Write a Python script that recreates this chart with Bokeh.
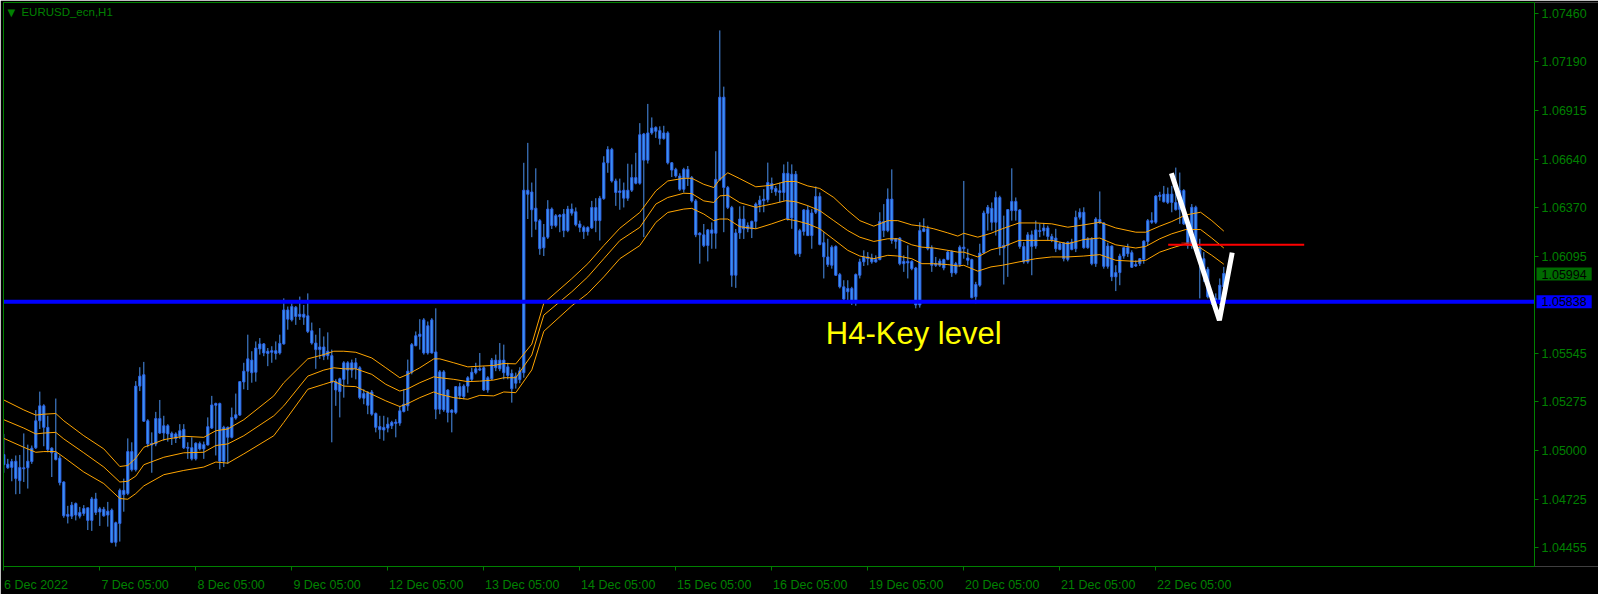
from bokeh.plotting import figure
from bokeh.models import ColumnDataSource, Range1d, FixedTicker, PrintfTickFormatter, LinearAxis, Label
from bokeh.embed import file_html
from bokeh.resources import INLINE

chart_title = "EURUSD_ecn,H1"
date_labels = ["6 Dec 2022", "7 Dec 05:00", "8 Dec 05:00", "9 Dec 05:00", "12 Dec 05:00",
               "13 Dec 05:00", "14 Dec 05:00", "15 Dec 05:00", "16 Dec 05:00", "19 Dec 05:00",
               "20 Dec 05:00", "21 Dec 05:00", "22 Dec 05:00"]
date_label_bars = [0, 24, 48, 72, 96, 120, 144, 168, 192, 216, 240, 264, 288]
price_ticks = [1.04455, 1.04725, 1.05000, 1.05275, 1.05545, 1.06095, 1.06370,
               1.06640, 1.06915, 1.07190, 1.07460]

# H1 candles (bull and bear candles are drawn alike, so the body edges are given)
high = [
    1.05095, 1.04955, 1.04955, 1.04974, 1.04977, 1.05098, 1.05035, 1.05030, 1.05229, 1.05333,
    1.05262, 1.05197, 1.05020, 1.05294, 1.04974, 1.04829, 1.04691, 1.04713, 1.04710, 1.04685,
    1.04695, 1.04680, 1.04741, 1.04764, 1.04685, 1.04685, 1.04713, 1.04676, 1.04602, 1.04788,
    1.04844, 1.05070, 1.05048, 1.05392, 1.05470, 1.05500, 1.05178, 1.05104, 1.05219, 1.05286,
    1.05197, 1.05150, 1.05108, 1.05104, 1.05150, 1.05150, 1.05048, 1.05076, 1.05048, 1.05052,
    1.05052, 1.05188, 1.05309, 1.05271, 1.05271, 1.05141, 1.05137, 1.05243, 1.05322, 1.05392,
    1.05495, 1.05653, 1.05560, 1.05615, 1.05634, 1.05606, 1.05578, 1.05588, 1.05615, 1.05653,
    1.05857, 1.05811, 1.05829, 1.05814, 1.05867, 1.05820, 1.05885, 1.05721, 1.05653, 1.05690,
    1.05643, 1.05666, 1.05569, 1.05402, 1.05411, 1.05504, 1.05504, 1.05513, 1.05522, 1.05476,
    1.05346, 1.05336, 1.05342, 1.05216, 1.05197, 1.05197, 1.05188, 1.05169, 1.05178, 1.05253,
    1.05346, 1.05513, 1.05606, 1.05671, 1.05740, 1.05746, 1.05727, 1.05746, 1.05801, 1.05454,
    1.05454, 1.05346, 1.05234, 1.05364, 1.05383, 1.05374, 1.05420, 1.05467, 1.05495, 1.05550,
    1.05476, 1.05420, 1.05522, 1.05541, 1.05606, 1.05597, 1.05495, 1.05457, 1.05440, 1.05470,
    1.06619, 1.06731, 1.06508, 1.06588, 1.06303, 1.06275, 1.06409, 1.06368, 1.06331, 1.06331,
    1.06359, 1.06377, 1.06390, 1.06368, 1.06294, 1.06266, 1.06262, 1.06405, 1.06420, 1.06433,
    1.06656, 1.06712, 1.06703, 1.06530, 1.06530, 1.06508, 1.06614, 1.06610, 1.06675, 1.06842,
    1.06787, 1.06950, 1.06874, 1.06824, 1.06824, 1.06827, 1.06796, 1.06623, 1.06591, 1.06560,
    1.06591, 1.06601, 1.06545, 1.06415, 1.06229, 1.06275, 1.06247, 1.06284, 1.06684, 1.07363,
    1.07047, 1.06489, 1.06377, 1.06247, 1.06374, 1.06377, 1.06284, 1.06294, 1.06396, 1.06434,
    1.06471, 1.06620, 1.06536, 1.06489, 1.06508, 1.06610, 1.06625, 1.06610, 1.06573, 1.06248,
    1.06359, 1.06378, 1.06359, 1.06486, 1.06452, 1.06229, 1.06192, 1.06155, 1.06155, 1.06000,
    1.05959, 1.05959, 1.05922, 1.05997, 1.06080, 1.06127, 1.06117, 1.06108, 1.06099, 1.06341,
    1.06387, 1.06475, 1.06582, 1.06196, 1.06201, 1.06099, 1.06155, 1.06071, 1.06034, 1.06285,
    1.06307, 1.06266, 1.06155, 1.06090, 1.06080, 1.06080, 1.06127, 1.06127, 1.06062, 1.06155,
    1.06517, 1.06136, 1.06080, 1.05950, 1.06164, 1.06350, 1.06382, 1.06396, 1.06458, 1.06434,
    1.06322, 1.06359, 1.06588, 1.06424, 1.06359, 1.06173, 1.06229, 1.06238, 1.06294, 1.06276,
    1.06281, 1.06266, 1.06220, 1.06248, 1.06173, 1.06173, 1.06177, 1.06192, 1.06350, 1.06363,
    1.06369, 1.06201, 1.06201, 1.06313, 1.06458, 1.06285, 1.06170, 1.06155, 1.06043, 1.06108,
    1.06145, 1.06164, 1.06127, 1.06071, 1.06084, 1.06183, 1.06303, 1.06341, 1.06437, 1.06456,
    1.06489, 1.06480, 1.06489, 1.06592, 1.06564, 1.06471, 1.06285, 1.06387, 1.06378, 1.06192,
    1.06117, 1.06034, 1.05894, 1.05885, 1.05969, 1.06034]
body_high = [
    1.04979, 1.04925, 1.04940, 1.04942, 1.04907, 1.04905, 1.04942, 1.05015, 1.05169, 1.05253,
    1.05253, 1.05132, 1.05015, 1.04989, 1.04959, 1.04825, 1.04643, 1.04695, 1.04704, 1.04654,
    1.04676, 1.04680, 1.04730, 1.04730, 1.04674, 1.04672, 1.04661, 1.04667, 1.04596, 1.04778,
    1.04778, 1.04996, 1.04996, 1.05364, 1.05420, 1.05428, 1.05169, 1.05043, 1.05182, 1.05182,
    1.05141, 1.05141, 1.05098, 1.05095, 1.05113, 1.05121, 1.05020, 1.05018, 1.05043, 1.05041,
    1.05035, 1.05136, 1.05258, 1.05266, 1.05266, 1.05132, 1.05132, 1.05188, 1.05203, 1.05389,
    1.05448, 1.05517, 1.05510, 1.05578, 1.05601, 1.05601, 1.05560, 1.05563, 1.05563, 1.05604,
    1.05792, 1.05792, 1.05811, 1.05807, 1.05768, 1.05768, 1.05759, 1.05675, 1.05606, 1.05584,
    1.05584, 1.05560, 1.05535, 1.05389, 1.05405, 1.05495, 1.05495, 1.05495, 1.05495, 1.05467,
    1.05322, 1.05327, 1.05331, 1.05210, 1.05137, 1.05132, 1.05150, 1.05160, 1.05162, 1.05225,
    1.05262, 1.05448, 1.05597, 1.05647, 1.05656, 1.05736, 1.05703, 1.05736, 1.05556, 1.05444,
    1.05444, 1.05342, 1.05229, 1.05361, 1.05361, 1.05364, 1.05411, 1.05442, 1.05461, 1.05461,
    1.05467, 1.05411, 1.05510, 1.05510, 1.05510, 1.05510, 1.05472, 1.05435, 1.05420, 1.05450,
    1.06465, 1.06465, 1.06455, 1.06364, 1.06294, 1.06201, 1.06359, 1.06359, 1.06322, 1.06325,
    1.06331, 1.06359, 1.06359, 1.06344, 1.06275, 1.06256, 1.06256, 1.06368, 1.06368, 1.06420,
    1.06619, 1.06694, 1.06694, 1.06517, 1.06461, 1.06465, 1.06465, 1.06536, 1.06536, 1.06777,
    1.06781, 1.06787, 1.06815, 1.06818, 1.06800, 1.06787, 1.06787, 1.06619, 1.06582, 1.06545,
    1.06582, 1.06582, 1.06536, 1.06405, 1.06223, 1.06214, 1.06242, 1.06242, 1.06526, 1.06988,
    1.06988, 1.06480, 1.06368, 1.06225, 1.06303, 1.06303, 1.06266, 1.06290, 1.06387, 1.06409,
    1.06415, 1.06508, 1.06502, 1.06475, 1.06462, 1.06560, 1.06560, 1.06555, 1.06555, 1.06238,
    1.06354, 1.06354, 1.06337, 1.06430, 1.06430, 1.06170, 1.06090, 1.06145, 1.06149, 1.05991,
    1.05922, 1.05913, 1.05913, 1.05991, 1.06062, 1.06090, 1.06090, 1.06084, 1.06075, 1.06289,
    1.06289, 1.06415, 1.06415, 1.06192, 1.06196, 1.06065, 1.06065, 1.06065, 1.06028, 1.06238,
    1.06248, 1.06248, 1.06140, 1.06052, 1.06067, 1.06075, 1.06117, 1.06121, 1.06052, 1.06145,
    1.06145, 1.06084, 1.06075, 1.05935, 1.06112, 1.06337, 1.06369, 1.06363, 1.06424, 1.06424,
    1.06155, 1.06356, 1.06402, 1.06402, 1.06354, 1.06149, 1.06214, 1.06214, 1.06242, 1.06238,
    1.06253, 1.06253, 1.06205, 1.06196, 1.06164, 1.06168, 1.06173, 1.06173, 1.06313, 1.06341,
    1.06341, 1.06192, 1.06192, 1.06303, 1.06300, 1.06281, 1.06151, 1.06151, 1.06002, 1.06095,
    1.06142, 1.06142, 1.06114, 1.06047, 1.06080, 1.06179, 1.06294, 1.06294, 1.06432, 1.06437,
    1.06443, 1.06443, 1.06443, 1.06396, 1.06463, 1.06463, 1.06276, 1.06369, 1.06369, 1.06145,
    1.06080, 1.06021, 1.05876, 1.05857, 1.05931, 1.05997]
body_low = [
    1.04922, 1.04905, 1.04907, 1.04844, 1.04832, 1.04899, 1.04905, 1.04940, 1.05017, 1.05169,
    1.05132, 1.05007, 1.04989, 1.04951, 1.04821, 1.04635, 1.04632, 1.04633, 1.04639, 1.04633,
    1.04648, 1.04609, 1.04609, 1.04654, 1.04656, 1.04635, 1.04639, 1.04486, 1.04486, 1.04592,
    1.04754, 1.04760, 1.04894, 1.04894, 1.05364, 1.05167, 1.05039, 1.05033, 1.05039, 1.05100,
    1.05100, 1.05095, 1.05076, 1.05070, 1.05082, 1.05017, 1.05015, 1.04955, 1.04955, 1.05011,
    1.05011, 1.05033, 1.05128, 1.05256, 1.04942, 1.04942, 1.05076, 1.05076, 1.05184, 1.05201,
    1.05387, 1.05448, 1.05439, 1.05442, 1.05573, 1.05550, 1.05547, 1.05554, 1.05547, 1.05550,
    1.05601, 1.05740, 1.05736, 1.05755, 1.05755, 1.05751, 1.05671, 1.05606, 1.05569, 1.05569,
    1.05532, 1.05535, 1.05383, 1.05342, 1.05333, 1.05402, 1.05454, 1.05454, 1.05463, 1.05299,
    1.05296, 1.05256, 1.05206, 1.05132, 1.05119, 1.05117, 1.05128, 1.05141, 1.05154, 1.05156,
    1.05221, 1.05253, 1.05442, 1.05591, 1.05643, 1.05550, 1.05550, 1.05550, 1.05234, 1.05234,
    1.05230, 1.05216, 1.05216, 1.05216, 1.05309, 1.05305, 1.05364, 1.05402, 1.05439, 1.05454,
    1.05342, 1.05342, 1.05405, 1.05467, 1.05461, 1.05439, 1.05424, 1.05349, 1.05380, 1.05400,
    1.05439, 1.06442, 1.06355, 1.06290, 1.06136, 1.06141, 1.06201, 1.06266, 1.06266, 1.06316,
    1.06238, 1.06238, 1.06336, 1.06271, 1.06256, 1.06232, 1.06232, 1.06253, 1.06294, 1.06294,
    1.06418, 1.06619, 1.06517, 1.06452, 1.06452, 1.06420, 1.06420, 1.06465, 1.06504, 1.06504,
    1.06634, 1.06634, 1.06787, 1.06796, 1.06755, 1.06755, 1.06619, 1.06578, 1.06545, 1.06470,
    1.06470, 1.06536, 1.06405, 1.06214, 1.06214, 1.06154, 1.06154, 1.06223, 1.06223, 1.06523,
    1.06480, 1.06368, 1.05987, 1.05987, 1.06225, 1.06247, 1.06247, 1.06248, 1.06290, 1.06383,
    1.06406, 1.06411, 1.06471, 1.06456, 1.06452, 1.06452, 1.06303, 1.06309, 1.06108, 1.06108,
    1.06233, 1.06210, 1.06210, 1.06341, 1.06160, 1.06090, 1.06047, 1.06043, 1.05987, 1.05922,
    1.05853, 1.05894, 1.05835, 1.05835, 1.05987, 1.06062, 1.06080, 1.06062, 1.06062, 1.06075,
    1.06238, 1.06238, 1.06183, 1.06177, 1.06052, 1.06052, 1.06056, 1.06024, 1.05820, 1.05820,
    1.06233, 1.06136, 1.06043, 1.06043, 1.06043, 1.06028, 1.06076, 1.06000, 1.06000, 1.06047,
    1.06136, 1.06071, 1.05861, 1.05866, 1.05931, 1.06112, 1.06335, 1.06285, 1.06285, 1.06145,
    1.06140, 1.06155, 1.06350, 1.06350, 1.06149, 1.06062, 1.06062, 1.06149, 1.06151, 1.06233,
    1.06236, 1.06205, 1.06186, 1.06136, 1.06132, 1.06080, 1.06076, 1.06132, 1.06136, 1.06313,
    1.06142, 1.06142, 1.06052, 1.06052, 1.06281, 1.06037, 1.06037, 1.05978, 1.05978, 1.06002,
    1.06095, 1.06108, 1.06032, 1.06039, 1.06052, 1.06076, 1.06177, 1.06285, 1.06285, 1.06430,
    1.06400, 1.06396, 1.06396, 1.06356, 1.06356, 1.06276, 1.06155, 1.06155, 1.06145, 1.06062,
    1.06015, 1.05866, 1.05838, 1.05842, 1.05838, 1.05922]
low = [
    1.04877, 1.04899, 1.04829, 1.04756, 1.04758, 1.04825, 1.04788, 1.04927, 1.05011, 1.05123,
    1.05026, 1.04992, 1.04853, 1.04946, 1.04806, 1.04624, 1.04592, 1.04617, 1.04609, 1.04620,
    1.04635, 1.04555, 1.04550, 1.04639, 1.04578, 1.04630, 1.04574, 1.04481, 1.04462, 1.04490,
    1.04658, 1.04751, 1.04884, 1.04884, 1.05336, 1.05163, 1.05020, 1.04877, 1.05026, 1.05095,
    1.05057, 1.05052, 1.05033, 1.05044, 1.05067, 1.05011, 1.04955, 1.04946, 1.04946, 1.05002,
    1.04955, 1.05030, 1.05123, 1.04974, 1.04896, 1.04909, 1.04927, 1.05070, 1.05175, 1.05197,
    1.05346, 1.05342, 1.05383, 1.05389, 1.05541, 1.05532, 1.05476, 1.05495, 1.05513, 1.05541,
    1.05597, 1.05681, 1.05727, 1.05708, 1.05736, 1.05708, 1.05662, 1.05597, 1.05461, 1.05517,
    1.05510, 1.05513, 1.05048, 1.05253, 1.05188, 1.05299, 1.05374, 1.05411, 1.05402, 1.05290,
    1.05262, 1.05206, 1.05197, 1.05104, 1.05067, 1.05057, 1.05104, 1.05123, 1.05076, 1.05141,
    1.05216, 1.05225, 1.05430, 1.05588, 1.05569, 1.05541, 1.05541, 1.05547, 1.05178, 1.05206,
    1.05219, 1.05160, 1.05104, 1.05206, 1.05290, 1.05290, 1.05327, 1.05392, 1.05430, 1.05448,
    1.05336, 1.05327, 1.05398, 1.05448, 1.05448, 1.05402, 1.05402, 1.05271, 1.05350, 1.05380,
    1.05411, 1.06303, 1.06201, 1.06243, 1.06102, 1.06095, 1.06191, 1.06247, 1.06256, 1.06229,
    1.06201, 1.06229, 1.06322, 1.06262, 1.06229, 1.06191, 1.06210, 1.06247, 1.06229, 1.06182,
    1.06411, 1.06563, 1.06508, 1.06377, 1.06355, 1.06368, 1.06405, 1.06455, 1.06498, 1.06496,
    1.06201, 1.06615, 1.06777, 1.06759, 1.06721, 1.06749, 1.06610, 1.06539, 1.06536, 1.06461,
    1.06452, 1.06489, 1.06396, 1.06201, 1.06052, 1.06145, 1.06065, 1.06136, 1.06136, 1.06517,
    1.06229, 1.06359, 1.05922, 1.05916, 1.06191, 1.06191, 1.06229, 1.06196, 1.06248, 1.06341,
    1.06341, 1.06396, 1.06449, 1.06434, 1.06396, 1.06406, 1.06294, 1.06248, 1.06099, 1.06090,
    1.06210, 1.06207, 1.06136, 1.06331, 1.06155, 1.05969, 1.06034, 1.06024, 1.05984, 1.05913,
    1.05848, 1.05848, 1.05820, 1.05816, 1.05969, 1.06039, 1.06043, 1.06052, 1.06058, 1.06071,
    1.06201, 1.06229, 1.06164, 1.06136, 1.06043, 1.06006, 1.05969, 1.06015, 1.05801, 1.05805,
    1.06229, 1.06127, 1.06006, 1.06034, 1.06034, 1.06015, 1.06071, 1.05978, 1.05991, 1.06034,
    1.06080, 1.06043, 1.05857, 1.05829, 1.05922, 1.06108, 1.06238, 1.06238, 1.06210, 1.06099,
    1.05935, 1.05978, 1.06294, 1.06294, 1.06136, 1.06052, 1.06052, 1.05987, 1.06136, 1.06201,
    1.06210, 1.06183, 1.06173, 1.06117, 1.06127, 1.06065, 1.06065, 1.06127, 1.06117, 1.06300,
    1.06136, 1.06136, 1.06043, 1.06034, 1.06276, 1.06024, 1.06024, 1.05954, 1.05898, 1.05931,
    1.06080, 1.06090, 1.06028, 1.06034, 1.06039, 1.06052, 1.06155, 1.06276, 1.06276, 1.06406,
    1.06396, 1.06387, 1.06341, 1.06350, 1.06276, 1.06270, 1.06136, 1.06136, 1.06136, 1.05857,
    1.05950, 1.05857, 1.05820, 1.05820, 1.05820, 1.05913]

# moving-average band (upper / middle / lower), read at these bar positions
ma_bar = [
    0, 5, 8, 10, 13, 15, 20, 25, 29, 31,
    33, 35, 40, 45, 50, 53, 56, 60, 67.5, 70,
    76, 80, 82.5, 85, 88, 92, 95.5, 99, 101, 104,
    107.5, 109, 112.5, 116, 119, 122.5, 125, 128, 132, 135,
    142, 146, 150, 154, 159, 163, 166, 170, 172, 175,
    177.5, 179, 181, 184, 188, 192, 195.5, 198, 201, 204,
    207.5, 211, 214, 217.5, 221, 223.5, 227, 229.5, 232.5, 236,
    238.5, 240, 243.5, 246.8, 249.6, 253.8, 258, 262, 266, 270,
    274, 278, 283, 285.5, 289, 292, 295.5, 299.2, 302, 305]
ma_upper = [
    1.05286, 1.05230, 1.05201, 1.05206, 1.05210, 1.05169, 1.05085, 1.05011, 1.04912, 1.04918,
    1.04959, 1.05020, 1.05063, 1.05082, 1.05076, 1.05113, 1.05123, 1.05175, 1.05309, 1.05383,
    1.05517, 1.05541, 1.05560, 1.05560, 1.05554, 1.05522, 1.05467, 1.05411, 1.05430, 1.05467,
    1.05517, 1.05517, 1.05495, 1.05472, 1.05476, 1.05480, 1.05491, 1.05489, 1.05600, 1.05830,
    1.05968, 1.06052, 1.06154, 1.06251, 1.06340, 1.06461, 1.06517, 1.06532, 1.06532, 1.06498,
    1.06480, 1.06526, 1.06563, 1.06530, 1.06484, 1.06493, 1.06514, 1.06514, 1.06489, 1.06475,
    1.06424, 1.06350, 1.06294, 1.06263, 1.06294, 1.06294, 1.06270, 1.06263, 1.06248, 1.06225,
    1.06207, 1.06223, 1.06201, 1.06223, 1.06248, 1.06281, 1.06281, 1.06276, 1.06257, 1.06270,
    1.06285, 1.06253, 1.06229, 1.06229, 1.06263, 1.06289, 1.06326, 1.06341, 1.06294, 1.06235]
ma_mid = [
    1.05175, 1.05128, 1.05095, 1.05100, 1.05104, 1.05067, 1.04989, 1.04909, 1.04825, 1.04829,
    1.04858, 1.04922, 1.04964, 1.04989, 1.04992, 1.05030, 1.05039, 1.05085, 1.05197, 1.05253,
    1.05420, 1.05454, 1.05467, 1.05461, 1.05461, 1.05430, 1.05374, 1.05336, 1.05349, 1.05383,
    1.05416, 1.05411, 1.05402, 1.05389, 1.05392, 1.05398, 1.05411, 1.05411, 1.05539, 1.05763,
    1.05894, 1.05978, 1.06080, 1.06182, 1.06256, 1.06387, 1.06424, 1.06448, 1.06446, 1.06405,
    1.06396, 1.06433, 1.06437, 1.06395, 1.06369, 1.06387, 1.06406, 1.06400, 1.06378, 1.06350,
    1.06294, 1.06238, 1.06201, 1.06177, 1.06192, 1.06192, 1.06158, 1.06145, 1.06140, 1.06127,
    1.06117, 1.06117, 1.06090, 1.06130, 1.06145, 1.06183, 1.06183, 1.06183, 1.06164, 1.06188,
    1.06196, 1.06158, 1.06140, 1.06149, 1.06192, 1.06220, 1.06244, 1.06244, 1.06196, 1.06140]
ma_lower = [
    1.05070, 1.05020, 1.04992, 1.04996, 1.04996, 1.04964, 1.04881, 1.04816, 1.04732, 1.04728,
    1.04760, 1.04803, 1.04866, 1.04890, 1.04909, 1.04937, 1.04931, 1.04983, 1.05085, 1.05160,
    1.05346, 1.05374, 1.05392, 1.05364, 1.05361, 1.05318, 1.05281, 1.05249, 1.05266, 1.05299,
    1.05331, 1.05318, 1.05299, 1.05290, 1.05312, 1.05309, 1.05331, 1.05327, 1.05455, 1.05672,
    1.05815, 1.05885, 1.05978, 1.06080, 1.06154, 1.06284, 1.06340, 1.06359, 1.06363, 1.06331,
    1.06294, 1.06303, 1.06303, 1.06260, 1.06248, 1.06276, 1.06303, 1.06294, 1.06276, 1.06248,
    1.06188, 1.06127, 1.06095, 1.06080, 1.06099, 1.06095, 1.06080, 1.06052, 1.06052, 1.06047,
    1.06039, 1.06043, 1.06010, 1.06034, 1.06043, 1.06062, 1.06080, 1.06090, 1.06090, 1.06095,
    1.06103, 1.06071, 1.06065, 1.06071, 1.06117, 1.06140, 1.06164, 1.06140, 1.06099, 1.06049]

key_level = 1.05838
key_level_text = "H4-Key level"
key_text_bar, key_text_price = 205.5, 1.05660
bid_price = 1.05994
red_line_bars = [291.1, 325.1]
red_line_price = 1.06158
red_tick_bars = [294.4, 298.3]
red_tick_price = 1.06168
v_bars = [291.9, 303.9, 307.1]
v_prices = [1.06560, 1.05734, 1.06114]

FONT = "Liberation Sans"
GREEN = "#008000"
CANDLE_FILL = "#3d9cf5"
CANDLE_LINE = "#2e62e6"
WICK = "#4a92ee"
ORANGE = "#ffa500"

# the chart area ends at PLOT_END (bars); the price scale sits to its right
X_START, PLOT_END, X_END = -0.075, 382.675, 398.675

src = ColumnDataSource(dict(x=list(range(len(high))), high=high, low=low,
                            top=body_high, bottom=body_low))

p = figure(width=1598, height=594, output_backend="svg", toolbar_location=None,
           x_range=Range1d(X_START, X_END), y_range=Range1d(1.04350, 1.07520),
           y_axis_location="right", background_fill_color="black",
           border_fill_color="black", min_border_left=3, min_border_top=2,
           min_border_right=0, min_border_bottom=24, outline_line_color=None)
p.grid.visible = False

# right price scale, fixed at the right edge of the chart area
ya = p.yaxis[0]
ya.fixed_location = PLOT_END
ya.ticker = FixedTicker(ticks=price_ticks)
ya.formatter = PrintfTickFormatter(format="%.5f")
ya.axis_line_color = GREEN
ya.major_tick_line_color = GREEN
ya.major_tick_out = 4
ya.major_tick_in = 0
ya.minor_tick_line_color = None
ya.major_label_text_color = GREEN
ya.major_label_text_font = FONT
ya.major_label_text_font_size = "12.5px"
ya.major_label_standoff = 3

# bottom time scale: tick marks and border
xa = p.xaxis[0]
xa.bounds = (X_START, PLOT_END)
xa.ticker = FixedTicker(ticks=date_label_bars)
xa.major_label_overrides = {b: "" for b in date_label_bars}
xa.major_label_text_font_size = "0px"
xa.major_label_standoff = 0
xa.axis_line_color = GREEN
xa.major_tick_line_color = GREEN
xa.major_tick_out = 4
xa.major_tick_in = 0
xa.minor_tick_line_color = None

# bottom time scale: labels that start at their tick, as in MetaTrader
label_pos = [round(b + 0.78 * len(t) + 0.25, 2) for b, t in zip(date_label_bars, date_labels)]
xa2 = LinearAxis(ticker=FixedTicker(ticks=label_pos),
                 major_label_overrides=dict(zip(label_pos, date_labels)),
                 axis_line_color=None, major_tick_line_color=None,
                 minor_tick_line_color=None, major_label_standoff=1,
                 major_label_text_color=GREEN, major_label_text_font=FONT,
                 major_label_text_font_size="12.5px")
p.add_layout(xa2, "below")

# top and left borders of the chart area
top_border = LinearAxis(bounds=(X_START, PLOT_END), ticker=FixedTicker(ticks=[]),
                        axis_line_color=GREEN, major_tick_line_color=None,
                        minor_tick_line_color=None, major_label_text_font_size="0px",
                        major_label_standoff=0)
p.add_layout(top_border, "above")
left_border = LinearAxis(ticker=FixedTicker(ticks=[]), axis_line_color=GREEN,
                         major_tick_line_color=None, minor_tick_line_color=None,
                         major_label_text_font_size="0px", major_label_standoff=0)
p.add_layout(left_border, "left")

# candles
p.segment(x0="x", y0="low", x1="x", y1="high", source=src, line_color=WICK, line_width=1)
p.vbar(x="x", top="top", bottom="bottom", width=0.55, source=src,
       fill_color=CANDLE_FILL, line_color=CANDLE_LINE, line_width=1)

# moving-average band
for band in (ma_upper, ma_mid, ma_lower):
    p.line(ma_bar, band, line_color=ORANGE, line_width=1)

# key level across the chart area
p.line([X_START, PLOT_END], [key_level, key_level], line_color="#0000ff", line_width=4)

# red level and drawn V
p.line(red_tick_bars, [red_tick_price] * 2, line_color="#b02010", line_width=1)
p.line(red_line_bars, [red_line_price] * 2, line_color="#ff0000", line_width=2)
p.line(v_bars, v_prices, line_color="white", line_width=5, line_join="bevel")

p.add_layout(Label(x=key_text_bar, y=key_text_price, text=key_level_text,
                   text_font=FONT, text_font_size="31px", text_color="#ffff00",
                   text_baseline="alphabetic"))

# title
p.add_layout(Label(x=1.9, y=1.07461, text="\u25bc", text_font="DejaVu Sans",
                   text_font_size="10px", text_color=GREEN, text_align="center",
                   text_baseline="middle"))
p.add_layout(Label(x=4.4, y=1.07464, text=chart_title, text_font=FONT,
                   text_font_size="11.5px", text_color=GREEN, text_baseline="middle"))

# price boxes on the price scale
for price, bg in ((bid_price, "#006a00"), (key_level, "#0000ff")):
    p.add_layout(Label(x=PLOT_END + 0.5, y=price, text=f"{price:.5f}", text_font=FONT,
                       text_font_size="12.5px", text_color="#000000",
                       text_baseline="middle", text_align="left",
                       background_fill_color=bg, padding=(5, 2)))

open("out.html", "w").write(file_html(p, INLINE))
